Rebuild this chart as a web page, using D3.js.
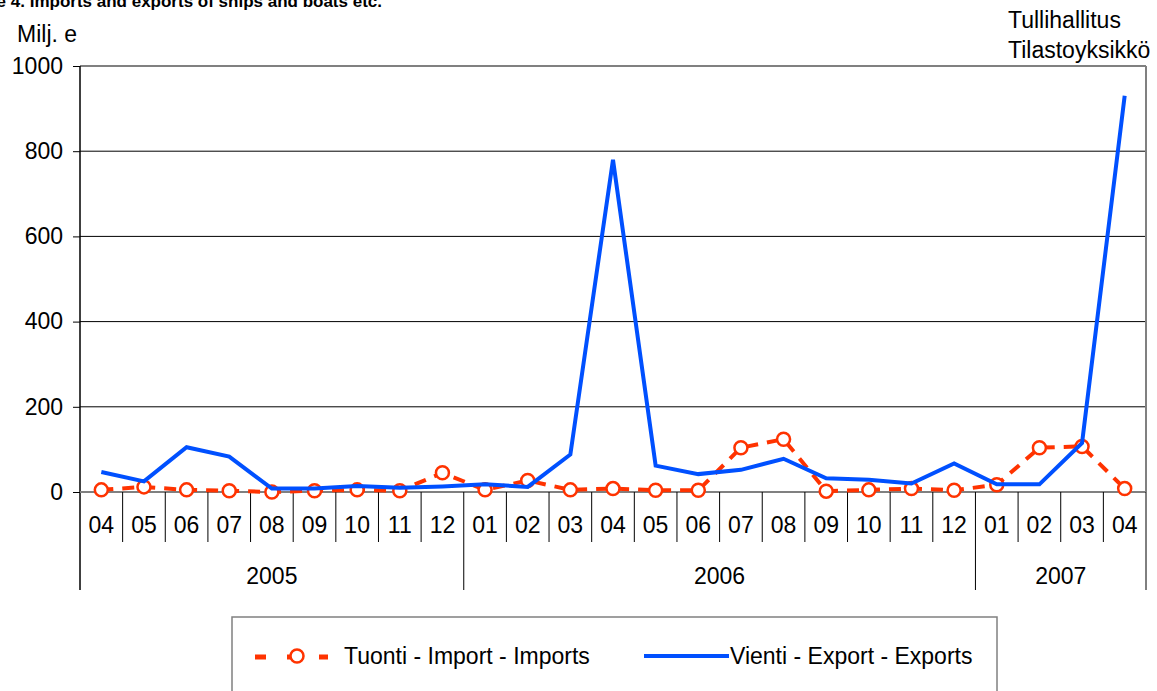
<!DOCTYPE html>
<html lang="fi">
<head>
<meta charset="utf-8">
<title>Imports and exports of ships and boats</title>
<script src="https://d3js.org/d3.v7.min.js"></script>
<style>
  body { margin: 0; background: #fff; }
  text { font-family: "Liberation Sans", Arial, sans-serif; fill: #000; }
</style>
</head>
<body>
<script>
// months from 2005-04 to 2007-04
var months = ["04","05","06","07","08","09","10","11","12",
              "01","02","03","04","05","06","07","08","09","10","11","12",
              "01","02","03","04"];
var years = [{label: "2005", n: 9}, {label: "2006", n: 12}, {label: "2007", n: 4}];
// Milj. e
var imports = [5, 12, 5, 3, 0, 3, 5, 3, 45, 5, 27, 5, 8, 4, 4, 104, 124, 2, 5, 8, 4, 17, 104, 107, 8];
var exports = [47, 25, 105, 83, 8, 8, 14, 10, 13, 18, 12, 88, 780, 62, 42, 52, 78, 32, 29, 20, 67, 18, 18, 115, 930];
var yTicks = [0, 200, 400, 600, 800, 1000];

var W = 1157, H = 691;
var pLeft = 80, pRight = 1146, pTop = 66, pBottom = 492;
var fs = 23;

var svg = d3.select("body").append("svg").attr("width", W).attr("height", H);

var x = d3.scaleBand().domain(d3.range(months.length)).range([pLeft, pRight]).padding(0);
var y = d3.scaleLinear().domain([0, 1000]).range([pBottom, pTop]);
var cx = function(i){ return x(i) + x.bandwidth()/2; };

// title, cut at the top-left like the original
svg.append("text")
   .attr("x", 382).attr("y", 7)
   .attr("text-anchor", "end")
   .attr("font-weight", "bold")
   .attr("font-size", 17)
   .text("Figure 4. Imports and exports of ships and boats etc.");

svg.append("text").attr("x", 17).attr("y", 42).attr("font-size", fs).text("Milj. e");
svg.append("text").attr("x", 1008).attr("y", 28).attr("font-size", fs).text("Tullihallitus");
svg.append("text").attr("x", 1008).attr("y", 58).attr("font-size", fs).text("Tilastoyksikkö");

// gridlines
svg.append("g").selectAll("line").data(yTicks.filter(function(d){ return d > 0; })).join("line")
   .attr("x1", pLeft).attr("x2", pRight)
   .attr("y1", function(d){ return y(d); }).attr("y2", function(d){ return y(d); })
   .attr("stroke", function(d){ return d == 1000 ? "#808080" : "#000"; })
   .attr("stroke-width", function(d){ return d == 1000 ? 2 : 1; });
svg.append("line").attr("x1", pRight).attr("x2", pRight).attr("y1", pTop).attr("y2", pBottom)
   .attr("stroke", "#808080").attr("stroke-width", 2);

// y axis
var yAxis = svg.append("g").attr("transform", "translate(" + pLeft + ",0)")
   .call(d3.axisLeft(y).tickValues(yTicks).tickFormat(d3.format("d")).tickSize(7).tickPadding(10));
yAxis.select(".domain").remove();
yAxis.selectAll("text").attr("font-size", fs).attr("font-family", "Liberation Sans, Arial, sans-serif").attr("fill", "#000");
yAxis.selectAll("line").attr("stroke", "#000");
svg.append("line").attr("x1", pLeft).attr("x2", pLeft).attr("y1", pTop).attr("y2", 590)
   .attr("stroke", "#000").attr("stroke-width", 1.5);
svg.append("line").attr("x1", pLeft).attr("x2", pRight).attr("y1", pBottom).attr("y2", pBottom)
   .attr("stroke", "#808080").attr("stroke-width", 2);

// category dividers and month labels
var yearStarts = [];
var acc = 0;
years.forEach(function(yr){ yr.start = acc; acc += yr.n; yearStarts.push(yr.start); });
svg.append("g").selectAll("line").data(d3.range(1, months.length + 1)).join("line")
   .attr("x1", function(i){ return i < months.length ? x(i) : pRight; })
   .attr("x2", function(i){ return i < months.length ? x(i) : pRight; })
   .attr("y1", pBottom)
   .attr("y2", function(i){ return (yearStarts.indexOf(i) >= 0 || i == months.length) ? 590 : 542; })
   .attr("stroke", "#000").attr("stroke-width", 1);
svg.append("g").selectAll("text").data(months).join("text")
   .attr("x", function(d, i){ return cx(i); }).attr("y", 533)
   .attr("text-anchor", "middle").attr("font-size", fs)
   .text(function(d){ return d; });
svg.append("g").selectAll("text").data(years).join("text")
   .attr("x", function(d){ return (x(d.start) + x(d.start + d.n - 1) + x.bandwidth()) / 2; })
   .attr("y", 584).attr("text-anchor", "middle").attr("font-size", fs)
   .text(function(d){ return d.label; });

var red = "#ff3300", blue = "#0050ff";
var line = d3.line().x(function(d, i){ return cx(i); }).y(function(d){ return y(d); });

// imports
svg.append("path").datum(imports).attr("d", line)
   .attr("fill", "none").attr("stroke", red).attr("stroke-width", 4)
   .attr("stroke-dasharray", "12,9");
svg.append("g").selectAll("circle").data(imports).join("circle")
   .attr("cx", function(d, i){ return cx(i); }).attr("cy", function(d){ return y(d); })
   .attr("r", 6.5).attr("fill", "#fff").attr("stroke", red).attr("stroke-width", 2.5);

// exports
svg.append("path").datum(exports).attr("d", line)
   .attr("fill", "none").attr("stroke", blue).attr("stroke-width", 4)
   .attr("stroke-linejoin", "miter");

// legend
svg.append("rect").attr("x", 232).attr("y", 617).attr("width", 765).attr("height", 90)
   .attr("fill", "none").attr("stroke", "#808080").attr("stroke-width", 1.5);
svg.append("line").attr("x1", 255).attr("x2", 328).attr("y1", 657).attr("y2", 657)
   .attr("stroke", red).attr("stroke-width", 5).attr("stroke-dasharray", "11,21");
svg.append("circle").attr("cx", 297).attr("cy", 656).attr("r", 6.5)
   .attr("fill", "#fff").attr("stroke", red).attr("stroke-width", 2.5);
svg.append("text").attr("x", 344).attr("y", 664).attr("font-size", fs).text("Tuonti - Import - Imports");
svg.append("line").attr("x1", 644).attr("x2", 729).attr("y1", 656).attr("y2", 656)
   .attr("stroke", blue).attr("stroke-width", 4);
svg.append("text").attr("x", 730).attr("y", 664).attr("font-size", fs).text("Vienti - Export - Exports");
</script>
</body>
</html>
